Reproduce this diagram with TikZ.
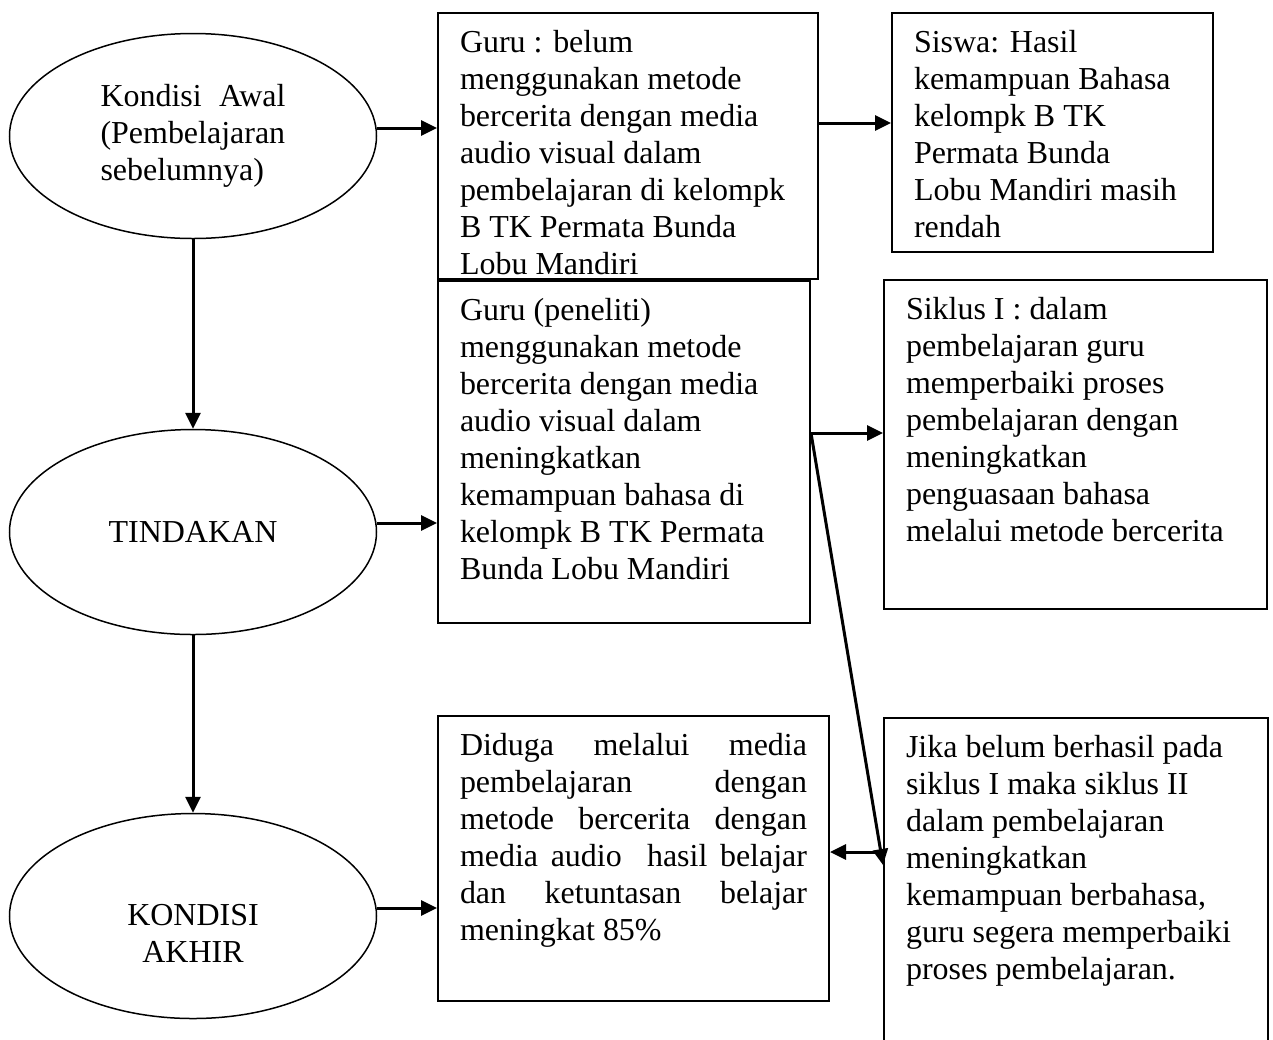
\documentclass[tikz,border=0pt]{standalone}
\usepackage{fontspec}
\setmainfont{Liberation Serif}
\usetikzlibrary{shapes.geometric,arrows.meta}

\newlength{\pix}\setlength{\pix}{0.02cm}
\newcommand{\isi}[3]{\parbox[c][#2\pix][t]{#1\pix}{\raggedright\strut #3}}

\begin{document}
\begin{tikzpicture}[x=0.02cm,y=-0.02cm,
  every node/.style={font=\fontsize{18.2pt}{21pt}\selectfont},
  elips/.style={draw,ellipse,line width=0.03cm,minimum width=367\pix,minimum height=205\pix,inner sep=0pt},
  kotak/.style={draw,line width=0.04cm,anchor=north west,inner xsep=22\pix,inner ysep=14\pix},
  panah/.style={-{Triangle[length=0.32cm,width=0.3cm]},line width=0.06cm}]
  \useasboundingbox (0,0) rectangle (1273,1039);
  \clip (0,0) rectangle (1273,1039);

  \node[elips,text width=185\pix,align=left] (awal) at (193,136) {Kondisi\hfill Awal\\(Pembelajaran\\sebelumnya)};
  \node[elips] (tindakan) at (193,532) {TINDAKAN};
  \node[elips] (akhir) at (193,916) {};
  \node[align=center] (akhirteks) at (193,933) {KONDISI\\AKHIR};

  \node[kotak] (guruawal) at (437,12) {\isi{336}{238}{Guru : belum\\menggunakan metode\\bercerita dengan media\\audio visual dalam\\pembelajaran di kelompk\\B TK Permata Bunda\\Lobu Mandiri}};
  \node[kotak] (siswa) at (891,12) {\isi{277}{211}{Siswa: Hasil\\kemampuan Bahasa\\kelompk B TK\\Permata Bunda\\Lobu Mandiri masih\\rendah}};
  \node[kotak] (gurupeneliti) at (437,280) {\isi{328}{314}{Guru (peneliti)\\menggunakan metode\\bercerita dengan media\\audio visual dalam\\meningkatkan\\kemampuan bahasa di\\kelompk B TK Permata\\Bunda Lobu Mandiri}};
  \node[kotak] (siklus) at (883,279) {\isi{339}{301}{Siklus I : dalam\\pembelajaran guru\\memperbaiki proses\\pembelajaran dengan\\meningkatkan\\penguasaan bahasa\\melalui metode bercerita}};
  \node[kotak] (diduga) at (437,715) {\isi{347}{257}{\makebox[\linewidth][s]{Diduga melalui media}\\\makebox[\linewidth][s]{pembelajaran dengan}\\\makebox[\linewidth][s]{metode bercerita dengan}\\\makebox[\linewidth][s]{media audio\ \ hasil belajar}\\\makebox[\linewidth][s]{dan ketuntasan belajar}\\meningkat 85\%}};
  \node[kotak] (jika) at (883,717) {\isi{340}{315}{Jika belum berhasil pada\\siklus I maka siklus II\\dalam pembelajaran\\meningkatkan\\kemampuan berbahasa,\\guru segera memperbaiki\\proses pembelajaran.}};

  \draw[panah] (awal.east |- 0,128) -- (guruawal.west |- 0,128);
  \draw[panah] (guruawal.east |- 0,123) -- (siswa.west |- 0,123);
  \draw[panah] (awal.south) -- (tindakan.north);
  \draw[panah] (tindakan.east |- 0,523) -- (gurupeneliti.west |- 0,523);
  \draw[panah] (tindakan.south) -- (akhir.north);
  \draw[panah] (akhir.east |- 0,908) -- (diduga.west |- 0,908);
  \draw[panah] (gurupeneliti.east |- 0,433) -- (siklus.west |- 0,433);
  \draw[panah] (gurupeneliti.east |- 0,433) -- (jika.west |- 0,865);
  \draw[panah] (jika.west |- 0,852) -- (diduga.east |- 0,852);
\end{tikzpicture}
\end{document}
